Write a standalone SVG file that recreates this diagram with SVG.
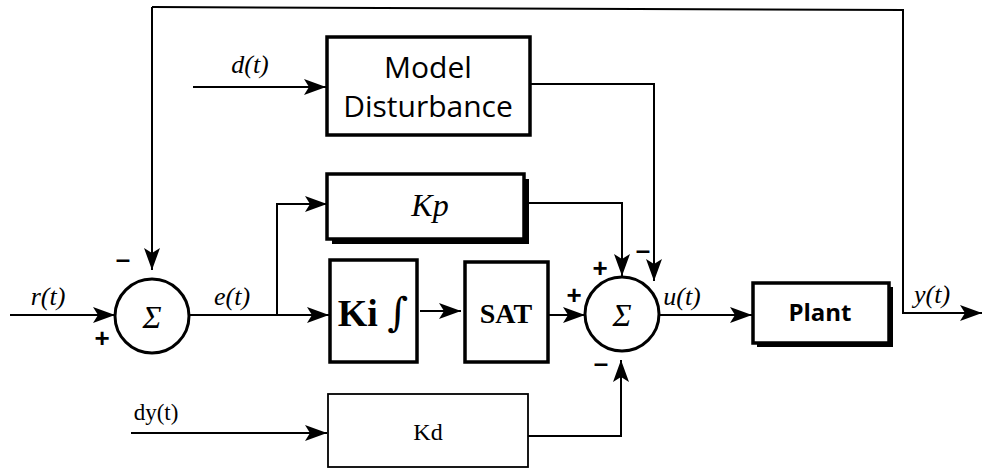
<svg xmlns="http://www.w3.org/2000/svg" width="984" height="469" viewBox="0 0 984 469">
<style>
.ln{fill:none;stroke:#000;stroke-width:2}
.box{fill:#fff;stroke:#000;stroke-width:3.5}
.thin{fill:#fff;stroke:#000;stroke-width:1.8}
.shadow{fill:#000}
.sum{fill:#fff;stroke:#000;stroke-width:3}
.math{font-family:"Liberation Serif",serif;font-style:italic;font-size:26px}
.sig{font-family:"Liberation Serif",serif;font-style:italic;font-size:32px}
.sign{font-family:"Liberation Sans",sans-serif;font-weight:bold;font-size:26px}
</style>
<defs>
<marker id="ah" markerUnits="userSpaceOnUse" markerWidth="22" markerHeight="16" refX="22" refY="8" orient="auto">
<path d="M0,0 L22,8 L0,16 L5,8 Z" fill="#000"/>
</marker>
</defs>
<g id="connectors">
<polyline class="ln" points="152,7 903,10 903,313 982,313" marker-end="url(#ah)"/>
<line class="ln" x1="152" y1="7" x2="152" y2="270" marker-end="url(#ah)"/>
<line class="ln" x1="10" y1="315" x2="115" y2="315" marker-end="url(#ah)"/>
<line class="ln" x1="190" y1="315" x2="329" y2="315" marker-end="url(#ah)"/>
<polyline class="ln" points="277,315 277,204 327,204" marker-end="url(#ah)"/>
<line class="ln" x1="420" y1="311" x2="461" y2="311" marker-end="url(#ah)"/>
<line class="ln" x1="548" y1="315" x2="585" y2="315" marker-end="url(#ah)"/>
<polyline class="ln" points="529,203 622,203 622,276" marker-end="url(#ah)"/>
<polyline class="ln" points="530,84 654,84 654,281" marker-end="url(#ah)"/>
<polyline class="ln" points="528,436 621,436 621,360" marker-end="url(#ah)"/>
<line class="ln" x1="660" y1="315" x2="752" y2="315" marker-end="url(#ah)"/>
<line class="ln" x1="193" y1="87" x2="326" y2="87" marker-end="url(#ah)"/>
<line class="ln" x1="131" y1="433" x2="327" y2="433" marker-end="url(#ah)"/>
</g>
<g id="sum1">
<circle class="sum" cx="152" cy="316" r="37"/>
<text class="sig" x="152" y="328" text-anchor="middle">Σ</text>
<text class="sign" x="123" y="268" text-anchor="middle">–</text>
<text class="sign" x="102" y="347" text-anchor="middle">+</text>
</g>
<g id="sum2">
<circle class="sum" cx="622" cy="314" r="37"/>
<text class="sig" x="622" y="326" text-anchor="middle">Σ</text>
<text class="sign" x="600" y="277" text-anchor="middle">+</text>
<text class="sign" x="643" y="259" text-anchor="middle">–</text>
<text class="sign" x="574" y="304" text-anchor="middle">+</text>
<text class="sign" x="601" y="372" text-anchor="middle">–</text>
</g>
<g id="kp">
<rect class="shadow" x="332" y="179" width="197" height="65"/>
<rect class="box" x="327" y="174" width="197" height="65"/>
<text x="430" y="216" text-anchor="middle" font-family="Liberation Serif, serif" font-style="italic" font-size="32">Kp</text>
</g>
<g id="ki">
<rect class="box" x="330" y="260" width="87" height="102"/>
<text x="373" y="326" text-anchor="middle" font-family="Liberation Serif, serif" font-weight="bold" font-size="38">Ki <tspan font-family="DejaVu Serif, serif" font-weight="normal" font-size="40">∫</tspan></text>
</g>
<g id="sat">
<rect class="box" x="465" y="262" width="83" height="100"/>
<text x="506" y="323" text-anchor="middle" font-family="Liberation Serif, serif" font-weight="bold" font-size="28">SAT</text>
</g>
<g id="plant">
<rect class="shadow" x="757" y="287" width="136" height="60"/>
<rect class="box" x="753" y="283" width="136" height="60"/>
<text x="820" y="321" text-anchor="middle" font-family="Open Sans, sans-serif" font-weight="bold" font-size="24">Plant</text>
</g>
<g id="disturbance">
<rect class="box" x="327" y="37" width="203" height="98"/>
<text x="428" y="78" text-anchor="middle" font-family="Open Sans, sans-serif" font-size="30">Model</text>
<text x="428" y="117" text-anchor="middle" font-family="Open Sans, sans-serif" font-size="30">Disturbance</text>
</g>
<g id="kd">
<rect class="thin" x="328" y="394" width="200" height="73"/>
<text x="428" y="440" text-anchor="middle" font-family="Liberation Serif, serif" font-size="24">Kd</text>
</g>
<g id="labels">
<text class="math" x="48" y="305" text-anchor="middle">r(t)</text>
<text class="math" x="232" y="305" text-anchor="middle">e(t)</text>
<text class="math" x="682" y="305" text-anchor="middle">u(t)</text>
<text class="math" x="932" y="303" text-anchor="middle">y(t)</text>
<text x="250" y="73" text-anchor="middle" font-family="Liberation Serif, serif" font-style="italic" font-size="26">d(t)</text>
<text x="156" y="420" text-anchor="middle" font-family="Liberation Serif, serif" font-size="23">dy(t)</text>
</g>
</svg>
